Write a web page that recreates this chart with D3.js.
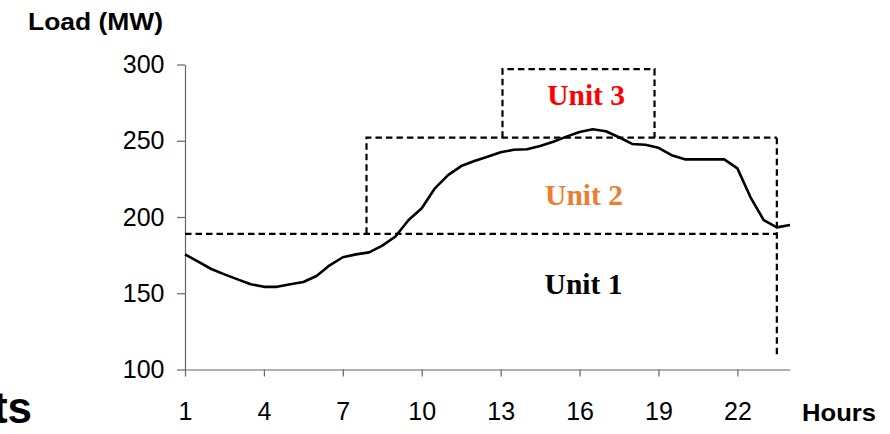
<!DOCTYPE html>
<html>
<head>
<meta charset="utf-8">
<script src="https://cdn.jsdelivr.net/npm/d3@7"></script>
<style>
  html, body { margin: 0; padding: 0; background: #fff; }
  svg { display: block; }
</style>
</head>
<body>
<svg id="chart" width="890" height="434"></svg>
<script>
// Half-hourly load profile over the day (MW)
const hours = [1, 1.5, 2, 2.5, 3, 3.5, 4, 4.5, 5, 5.5, 6, 6.5, 7, 7.5, 8, 8.5, 9, 9.5,
  10, 10.5, 11, 11.5, 12, 12.5, 13, 13.5, 14, 14.5, 15, 15.5, 16, 16.5, 17, 17.5,
  18, 18.5, 19, 19.5, 20, 20.5, 21, 21.5, 22, 22.5, 23, 23.5, 24];
const load = [175.5, 170.7, 165.9, 162.4, 159.1, 155.9, 154.2, 154.2, 155.9, 157.4,
  161.3, 168.3, 173.6, 175.5, 176.8, 181.2, 187.2, 198.0, 205.7, 218.8, 227.5,
  233.4, 236.7, 239.5, 242.4, 244.1, 244.4, 246.6, 249.4, 252.7, 255.7, 257.5,
  256.2, 252.3, 247.9, 247.4, 245.4, 240.5, 237.8, 237.8, 237.8, 237.8, 231.9,
  212.9, 198.0, 193.2, 194.8];

// Commitment blocks for each generating unit
const units = ["Unit 1", "Unit 2", "Unit 3"];
const unitColors = ["#000000", "#ED7D31", "#FF0000"];
const unitBase = [100, 189, 252];   // bottom of each block (MW)
const unitTop = [189, 252, 297];    // top of each block (MW)
const unitStart = [1, 7.9, 13.07];  // hour the unit comes on
const unitEnd = [23.5, 23.5, 18.85];// hour the unit goes off
const unitLabelHour = [16.15, 16.17, 16.25];
const unitLabelMW = [149.5, 207.9, 273.3];

const xTicks = [1, 4, 7, 10, 13, 16, 19, 22];
const yTicks = [100, 150, 200, 250, 300];

const svg = d3.select("#chart");
const x = d3.scaleLinear().domain([1, 24]).range([185, 790]);
const y = d3.scaleLinear().domain([100, 300]).range([369.5, 64.5]);

const sans = "'Liberation Sans', Arial, Helvetica, sans-serif";
const serif = "'Liberation Serif', 'Times New Roman', serif";

// Axes
const yAxis = d3.axisLeft(y).tickValues(yTicks).tickSize(8).tickSizeOuter(0).tickPadding(12.5);
const xAxis = d3.axisBottom(x).tickValues(xTicks).tickSize(7).tickSizeOuter(0).tickPadding(26);

const gy = svg.append("g").attr("transform", `translate(${x(1)},0)`).call(yAxis);
const gx = svg.append("g").attr("transform", `translate(0,${y(100)})`).call(xAxis);
[gx, gy].forEach(g => {
  g.selectAll("path, line").attr("stroke", "#666").attr("stroke-width", 1.2);
  g.selectAll("text").attr("font-family", sans).attr("font-size", 25).attr("fill", "#000");
});

// Dashed commitment blocks
const dash = "6.5,4";
const blocks = svg.append("g").attr("fill", "none").attr("stroke", "#000")
  .attr("stroke-width", 2.2).attr("stroke-dasharray", dash);

// Unit 1: level line across the day, then the drop at switch-off
blocks.append("path").attr("d", d3.line()([
  [x(unitStart[0]), y(unitTop[0])],
  [x(unitEnd[0]), y(unitTop[0])]
]));
blocks.append("path").attr("d", d3.line()([
  [x(unitEnd[1]), y(unitTop[1])],
  [x(unitEnd[1]), y(109)]
]));
// Unit 2 block
blocks.append("path").attr("d", d3.line()([
  [x(unitStart[1]), y(unitBase[1])],
  [x(unitStart[1]), y(unitTop[1])],
  [x(unitEnd[1]), y(unitTop[1])]
]));
// Unit 3 block
blocks.append("path").attr("d", d3.line()([
  [x(unitStart[2]), y(unitBase[2])],
  [x(unitStart[2]), y(unitTop[2])],
  [x(unitEnd[2]), y(unitTop[2])],
  [x(unitEnd[2]), y(unitBase[2])]
]));

// Load curve
svg.append("path")
  .datum(hours.map((h, i) => [h, load[i]]))
  .attr("fill", "none")
  .attr("stroke", "#000")
  .attr("stroke-width", 2.6)
  .attr("stroke-linejoin", "round")
  .attr("d", d3.line().x(d => x(d[0])).y(d => y(d[1])));

// Unit labels
units.forEach((u, i) => {
  svg.append("text")
    .attr("x", x(unitLabelHour[i]))
    .attr("y", y(unitLabelMW[i]))
    .attr("text-anchor", "middle")
    .attr("font-family", serif)
    .attr("font-weight", "bold")
    .attr("font-size", 29.5)
    .attr("fill", unitColors[i])
    .text(u);
});

// Axis titles
svg.append("text")
  .attr("x", 28).attr("y", 29.5)
  .attr("font-family", sans).attr("font-weight", "bold").attr("font-size", 24)
  .attr("textLength", 135).attr("lengthAdjust", "spacingAndGlyphs")
  .text("Load (MW)");
svg.append("text")
  .attr("x", 802).attr("y", 421)
  .attr("font-family", sans).attr("font-weight", "bold").attr("font-size", 24)
  .attr("textLength", 74).attr("lengthAdjust", "spacingAndGlyphs")
  .text("Hours");

// Tail of a heading running in from the left edge
svg.append("text")
  .attr("x", 32).attr("y", 423)
  .attr("text-anchor", "end")
  .attr("font-family", sans).attr("font-weight", "bold").attr("font-size", 44)
  .text("ts");
</script>
</body>
</html>
